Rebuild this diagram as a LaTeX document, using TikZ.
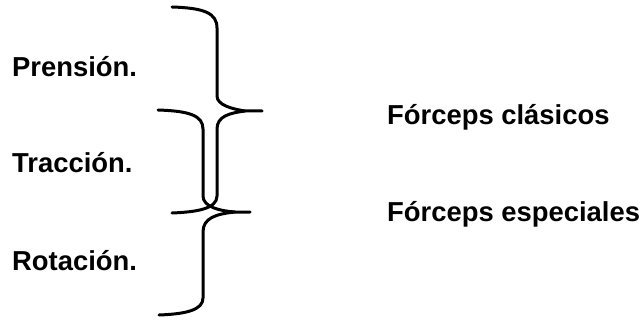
\documentclass[tikz,border=0pt]{standalone}
\usepackage{fontspec}
\setmainfont{Liberation Sans}

\begin{document}
\begin{tikzpicture}[
  x=1pt, y=-1pt,
  txt/.style={anchor=base west, inner sep=0pt, font=\fontsize{27.4}{32}\selectfont\bfseries},
  brc/.style={draw=black, line width=3pt, line cap=round, line join=round}
]
\useasboundingbox (0,0) rectangle (644,320);
% left column
\node[txt] (pren) at (12,77) {Prensión.};
\node[txt] (trac) at (12,173) {Tracción.};
\node[txt] (rota) at (12,270) {Rotación.};
% right column
\node[txt] (clas) at (387,125) {Fórceps clásicos};
\node[txt] (espe) at (387,221) {Fórceps especiales};
% upper brace
\draw[brc] (172,7) .. controls (204,8) and (217,13) .. (217,28) -- (217,96)
  .. controls (217,105) and (232,109) .. (245,111) -- (262,111);
\draw[brc] (245,111) .. controls (230,113) and (217,116) .. (217,129) -- (217,196)
  .. controls (217,209) and (196,212) .. (172,213);
% lower brace
\draw[brc] (158,110) .. controls (188,111) and (203,115) .. (203,129) -- (203,196)
  .. controls (203,207) and (220,211) .. (235,212) -- (250,212);
\draw[brc] (235,212) .. controls (216,214) and (203,218) .. (203,232) -- (203,298)
  .. controls (203,310) and (186,314) .. (159,315);
\end{tikzpicture}
\end{document}
